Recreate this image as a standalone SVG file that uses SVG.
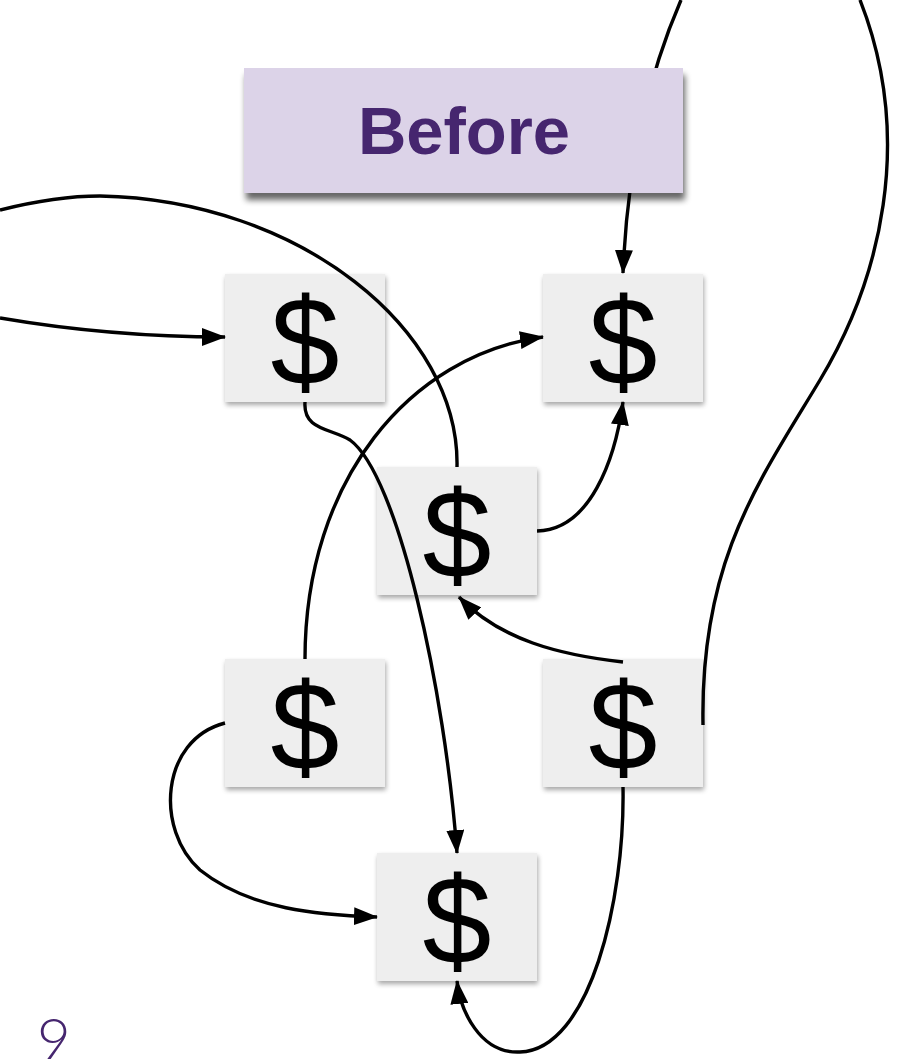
<svg xmlns="http://www.w3.org/2000/svg" width="903" height="1059" viewBox="0 0 903 1059">
<defs>
<filter id="sh" x="-10%" y="-10%" width="130%" height="130%">
<feGaussianBlur in="SourceAlpha" stdDeviation="2.5"/>
<feOffset dx="1" dy="3" result="b"/>
<feComponentTransfer><feFuncA type="linear" slope="0.35"/></feComponentTransfer>
<feMerge><feMergeNode/><feMergeNode in="SourceGraphic"/></feMerge>
</filter>
<filter id="sh2" x="-10%" y="-10%" width="130%" height="140%">
<feGaussianBlur in="SourceAlpha" stdDeviation="3"/>
<feOffset dx="2" dy="7" result="b"/>
<feComponentTransfer><feFuncA type="linear" slope="0.6"/></feComponentTransfer>
<feMerge><feMergeNode/><feMergeNode in="SourceGraphic"/></feMerge>
</filter>
<marker id="ah" viewBox="0 0 24 18" refX="23" refY="9" markerWidth="24" markerHeight="18" markerUnits="userSpaceOnUse" orient="auto">
<path d="M0,0 L24,9 L0,18 Z" fill="#000"/>
</marker>
</defs>
<style>
.n{fill:#eeeeee;filter:url(#sh)}
.d{font-family:"Liberation Sans",Arial,sans-serif;font-size:124px;fill:#000;text-anchor:middle}
.c{fill:none;stroke:#000;stroke-width:3.4}
.a{marker-end:url(#ah)}
</style>
<rect width="903" height="1059" fill="#fff"/>
<g id="nA"><rect class="n" x="225" y="274" width="160" height="128"/><text class="d" x="305" y="385">$</text></g>
<g id="nB"><rect class="n" x="543" y="274" width="160" height="128"/><text class="d" x="623" y="385">$</text></g>
<g id="nC"><rect class="n" x="377" y="467" width="160" height="128"/><text class="d" x="457" y="578">$</text></g>
<g id="nD"><rect class="n" x="225" y="659" width="160" height="128"/><text class="d" x="305" y="770">$</text></g>
<g id="nE"><rect class="n" x="543" y="659" width="160" height="128"/><text class="d" x="623" y="770">$</text></g>
<g id="nF"><rect class="n" x="377" y="853" width="160" height="128"/><text class="d" x="457" y="964">$</text></g>
<g id="connectors">
<path class="c a" d="M0,318 C70,330 150,337 225,337"/>
<path class="c" d="M0,210 C40,200 70,196 100,196 C300,200 460,330 457,467"/>
<path class="c a" d="M305,402 C303,430 330,428 350,440 C398,475 445,690 457,853"/>
<path class="c a" d="M305,659 C305,480 410,355 543,337"/>
<path class="c a" d="M537,531 C590,530 615,460 623,402"/>
<path class="c a" d="M681,0 C655,60 628,150 623,273"/>
<path class="c" d="M703,725 C700,560 760,480 820,380 C880,280 915,140 860,0"/>
<path class="c a" d="M623,662 C560,655 500,640 459,597"/>
<path class="c a" d="M225,723 C160,740 155,830 200,870 C250,910 320,915 377,917"/>
<path class="c a" d="M623,787 C625,900 590,1050 520,1052 C480,1054 460,1010 457,981"/>
</g>
<g id="before">
<rect x="244" y="68" width="439" height="125" fill="#dcd3e8" filter="url(#sh2)"/>
<text x="464" y="154" font-family="'Liberation Sans',Arial,sans-serif" font-weight="bold" font-size="67" fill="#46266f" text-anchor="middle">Before</text>
</g>
<text x="37" y="1060" font-family="Lato,'Noto Sans',sans-serif" font-weight="300" font-size="58" fill="#46266f">9</text>
</svg>
